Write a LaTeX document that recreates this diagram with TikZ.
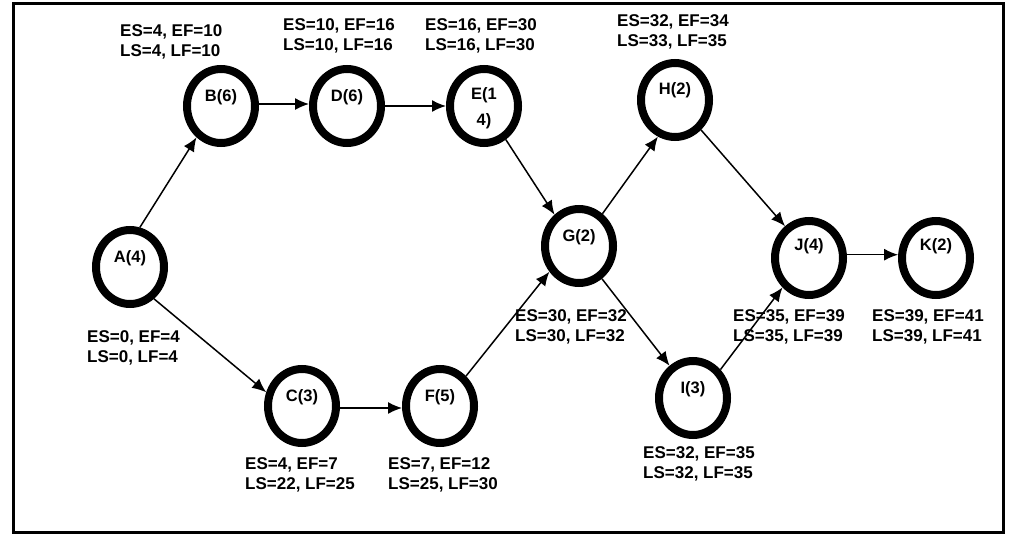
\documentclass[tikz,border=0pt]{standalone}
\usepackage{fontspec}
\setmainfont{Liberation Sans}
\usetikzlibrary{shapes.geometric,arrows.meta}
\begin{document}
\begin{tikzpicture}[x=1pt,y=-1pt,
  act/.style={ellipse,draw,line width=8pt,minimum width=68pt,minimum height=74pt,inner sep=0pt,outer sep=4pt},
  nm/.style={font=\fontsize{16.5}{20}\selectfont\bfseries,inner sep=0pt},
  info/.style={font=\fontsize{17}{20.5}\selectfont\bfseries,align=left,anchor=base west,inner sep=0pt},
  arr/.style={line width=1.5pt,-{Latex[length=14pt,width=12pt]}}]
\useasboundingbox (0,0) rectangle (1011,535);
\draw[line width=3pt] (13,4) rectangle (1003,532);
% activity nodes
\node[act] (A) at (130,267) {};
\node[act] (B) at (221,106) {};
\node[act] (D) at (347,106) {};
\node[act] (E) at (484,106) {};
\node[act] (H) at (675,100) {};
\node[act] (G) at (579,246) {};
\node[act] (C) at (302,406) {};
\node[act] (F) at (440,406) {};
\node[act] (I) at (693,398) {};
\node[act] (J) at (809,258) {};
\node[act] (K) at (936,258) {};
% names
\node[nm] (At) at ([yshift=9pt]A.center) {A(4)};
\node[nm] (Bt) at ([yshift=9pt]B.center) {B(6)};
\node[nm] (Dt) at ([yshift=9pt]D.center) {D(6)};
\node[nm,align=center,font=\fontsize{16.5}{26}\selectfont\bfseries] (Et) at ([yshift=-2pt]E.center) {E(1\\4)};
\node[nm] (Ht) at ([yshift=10pt]H.center) {H(2)};
\node[nm] (Gt) at ([yshift=9pt]G.center) {G(2)};
\node[nm] (Ct) at ([yshift=9pt]C.center) {C(3)};
\node[nm] (Ft) at ([yshift=9pt]F.center) {F(5)};
\node[nm] (It) at ([yshift=9pt]I.center) {I(3)};
\node[nm] (Jt) at ([yshift=12pt]J.center) {J(4)};
\node[nm] (Kt) at ([yshift=12pt]K.center) {K(2)};
% info labels (anchor = baseline of second line)
\node[info] (Ai) at (87,362.5) {ES=0, EF=4\\LS=0, LF=4};
\node[info] (Bi) at (120,56.5) {ES=4, EF=10\\LS=4, LF=10};
\node[info] (Di) at (283,50.5) {ES=10, EF=16\\LS=10, LF=16};
\node[info] (Ei) at (425,50.5) {ES=16, EF=30\\LS=16, LF=30};
\node[info] (Hi) at (617,46.5) {ES=32, EF=34\\LS=33, LF=35};
\node[info] (Gi) at (515,341.5) {ES=30, EF=32\\LS=30, LF=32};
\node[info] (Ci) at (245,489.5) {ES=4, EF=7\\LS=22, LF=25};
\node[info] (Fi) at (388,489.5) {ES=7, EF=12\\LS=25, LF=30};
\node[info] (Ii) at (643,478.5) {ES=32, EF=35\\LS=32, LF=35};
\node[info] (Ji) at (733,341.5) {ES=35, EF=39\\LS=35, LF=39};
\node[info] (Ki) at (872,341.5) {ES=39, EF=41\\LS=39, LF=41};
% connectors
\draw[arr] (A.76) -- (B.232);
\draw[arr] (A.307) -- (C.159);
\draw[arr] (B.3) -- (D.177);
\draw[arr] (D.east) -- (E.west);
\draw[arr] (E.303) -- (G.128);
\draw[arr] (C.357) -- (F.183);
\draw[arr] (F.49) -- (G.221);
\draw[arr] (G.54) -- (H.245);
\draw[arr] (G.305) -- (I.126);
\draw[arr] (H.311) -- (J.127);
\draw[arr] (I.46) -- (J.228);
\draw[arr] (J.5) -- (K.175);
\end{tikzpicture}
\end{document}
